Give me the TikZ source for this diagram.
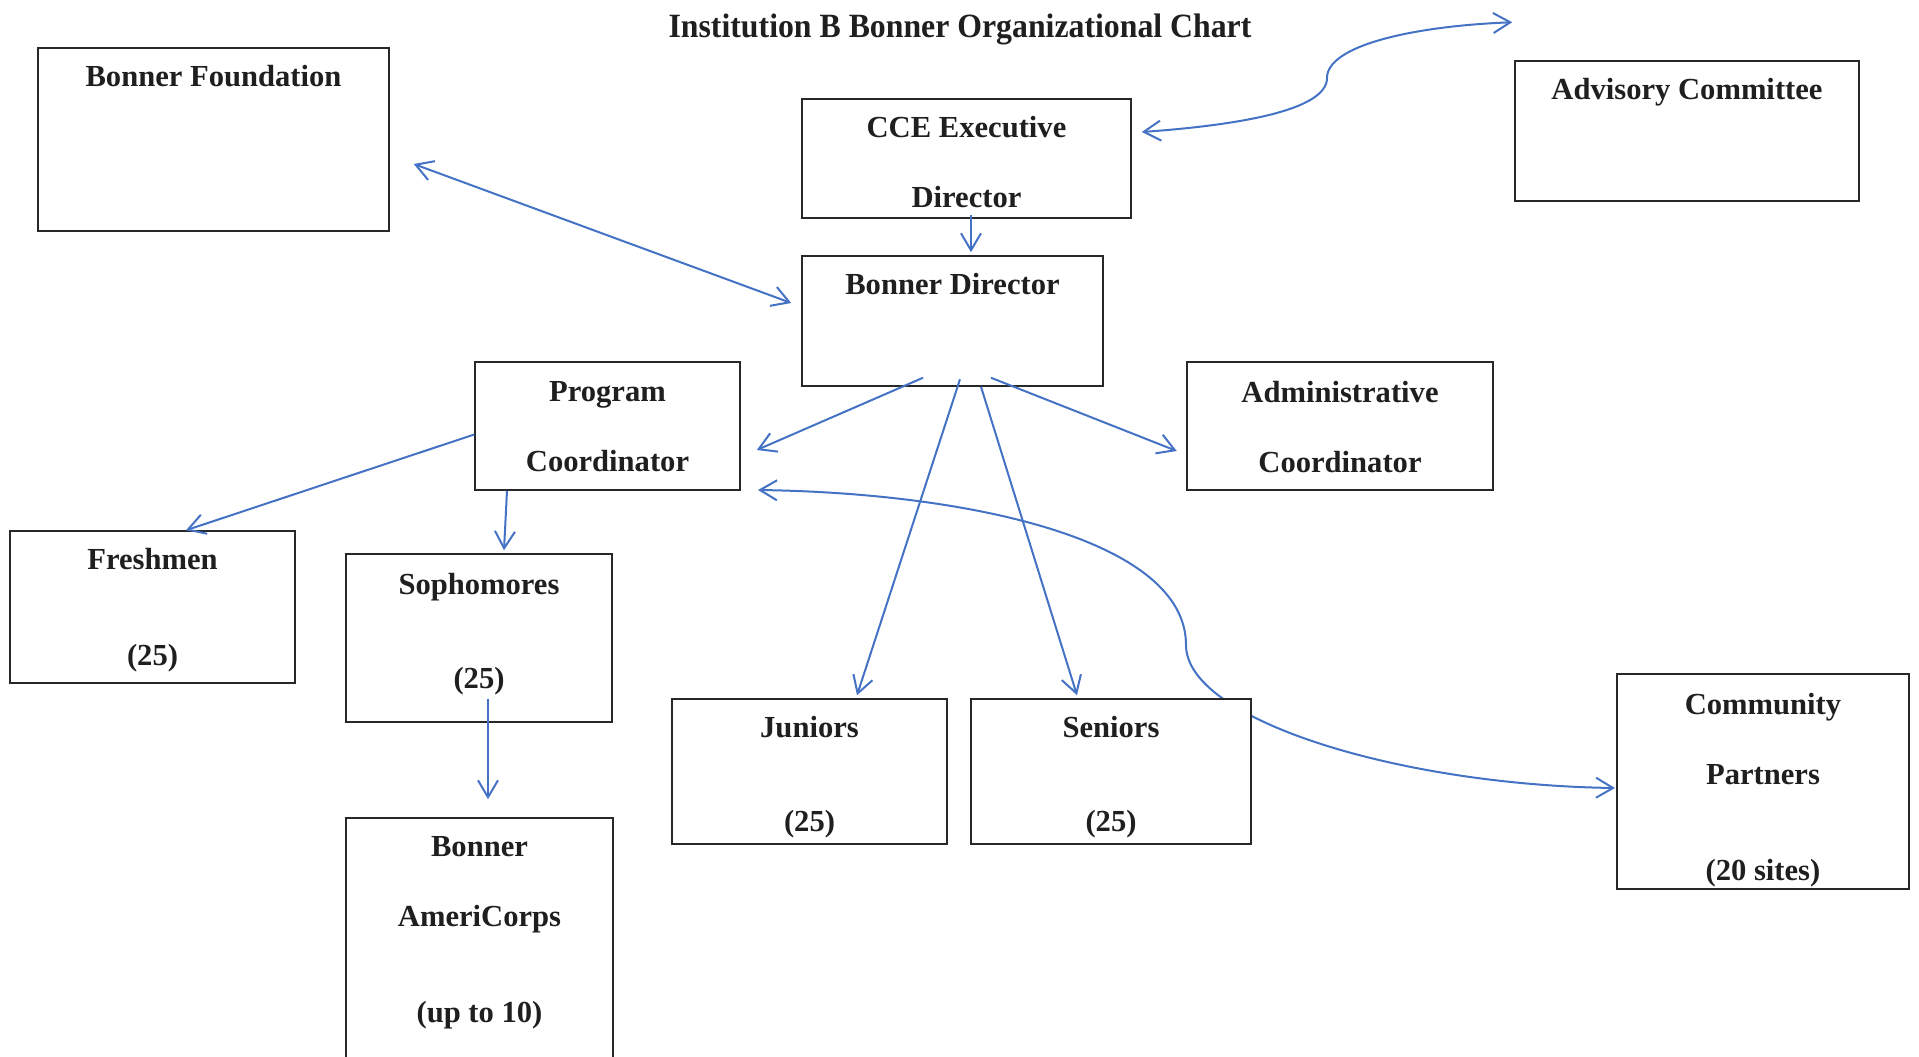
\documentclass[tikz,border=0pt]{standalone}
\usepackage{fontspec}
\usepackage{graphicx}
\setmainfont{Liberation Serif}
\usetikzlibrary{arrows.meta,calc}
\definecolor{arrowblue}{RGB}{68,114,196}
\definecolor{boxgray}{RGB}{40,40,40}
\begin{document}
\begin{tikzpicture}[x=0.5pt,y=-0.5pt,
  box/.style={draw=boxgray, line width=0.75pt, fill=white, rectangle, inner sep=0pt},
  txt/.style={font=\bfseries\fontsize{15.3}{35}\selectfont, align=center, inner sep=0pt, anchor=north, text=black!88},
  conn/.style={draw=arrowblue, line width=1pt, >={Straight Barb[length=8.5pt,width=10pt]}}]
\useasboundingbox (0,0) rectangle (1919,1056);
\clip (0,0) rectangle (1919,1056);

% title
\node[anchor=base, font=\bfseries\fontsize{17}{20}\selectfont, text=black!88] (title) at (960,37)
  {\scalebox{0.935}[1]{Institution B Bonner Organizational Chart}};

% helper coordinates for the curve drawn behind the boxes
\coordinate (progSE) at (740,490);
\coordinate (commW) at (1617,781.5);
\draw[conn,<->] ($(progSE)+(18,0)$) .. controls (970,493) and (1186,540) .. (1186,645)
   .. controls (1186,720) and (1400,785) .. ($(commW)+(-2,6.5)$);

% boxes
\node[box, minimum width=175.5pt, minimum height=91.5pt] (found) at (213.5,139.5) {};
\node[box, minimum width=172pt, minimum height=70pt] (adv) at (1687,131) {};
\node[box, minimum width=164.5pt, minimum height=59.5pt] (cce) at (966.5,158.5) {};
\node[box, minimum width=150.5pt, minimum height=65pt] (bdir) at (952.5,321) {};
\node[box, minimum width=132.5pt, minimum height=64pt] (prog) at (607.5,426) {};
\node[box, minimum width=153pt, minimum height=64pt] (admin) at (1340,426) {};
\node[box, minimum width=142.5pt, minimum height=76pt] (fresh) at (152.5,607) {};
\node[box, minimum width=133pt, minimum height=84pt] (soph) at (479,638) {};
\node[box, minimum width=133.5pt, minimum height=131pt] (amer) at (479.5,949) {};
\node[box, minimum width=137.5pt, minimum height=72.5pt] (jun) at (809.5,771.5) {};
\node[box, minimum width=140pt, minimum height=72.5pt] (sen) at (1111,771.5) {};
\node[box, minimum width=146pt, minimum height=107.5pt] (comm) at (1763,781.5) {};

% texts
\node[txt] (found-t) at ($(found.north)+(0,18)$) {Bonner Foundation};
\node[txt] (adv-t) at ($(adv.north)+(0,18)$) {Advisory Committee};
\node[txt] (cce-t) at ($(cce.north)+(0,18)$) {CCE Executive\\Director};
\node[txt] (bdir-t) at ($(bdir.north)+(0,18)$) {Bonner Director};
\node[txt] (prog-t) at ($(prog.north)+(0,20)$) {Program\\Coordinator};
\node[txt] (admin-t) at ($(admin.north)+(0,20)$) {Administrative\\Coordinator};
\node[txt] (fresh-t) at ($(fresh.north)+(0,18)$) {Freshmen\\[13pt](25)};
\node[txt] (soph-t) at ($(soph.north)+(0,20)$) {Sophomores\\[12pt](25)};
\node[txt] (amer-t) at ($(amer.north)+(0,19)$) {Bonner\\AmeriCorps\\[13pt](up to 10)};
\node[txt] (jun-t) at ($(jun.north)+(0,18)$) {Juniors\\[12pt](25)};
\node[txt] (sen-t) at ($(sen.north)+(0,18)$) {Seniors\\[12pt](25)};
\node[txt] (comm-t) at ($(comm.north)+(0,20)$) {Community\\Partners\\[13pt](20 sites)};

% connectors
\draw[conn,<->] ($(found.east)+(24,24.5)$) -- ($(bdir.west)+(-10,-18)$);
\draw[conn,<->] ($(cce.east)+(10,-26.5)$) .. controls (1240,125) and (1327,110) .. (1327,78)
   .. controls (1327,45) and (1415,26) .. ($(adv.north west)+(-2,-38)$);
\draw[conn,->] ($(cce.south)+(4.5,-4)$) -- ($(bdir.north)+(18.5,-3)$);
\draw[conn,->] ($(bdir.south)+(-29.5,-9)$) -- ($(prog.east)+(16,24)$);
\draw[conn,->] ($(bdir.south)+(38.5,-9)$) -- ($(admin.west)+(-9.5,25)$);
\draw[conn,->] ($(bdir.south)+(7.5,-7.5)$) -- ($(jun.north)+(47.5,-3)$);
\draw[conn,->] ($(bdir.south)+(28.5,0)$) -- ($(sen.north)+(-34,-3)$);
\draw[conn,->] ($(prog.west)+(0,8.5)$) -- ($(fresh.north)+(33.5,0)$);
\draw[conn,->] ($(prog.south)+(-100.5,0)$) -- ($(soph.north)+(25,-3)$);
\draw[conn,->] ($(soph.south)+(9,-24)$) -- ($(amer.north)+(8.5,-18)$);
\end{tikzpicture}
\end{document}
